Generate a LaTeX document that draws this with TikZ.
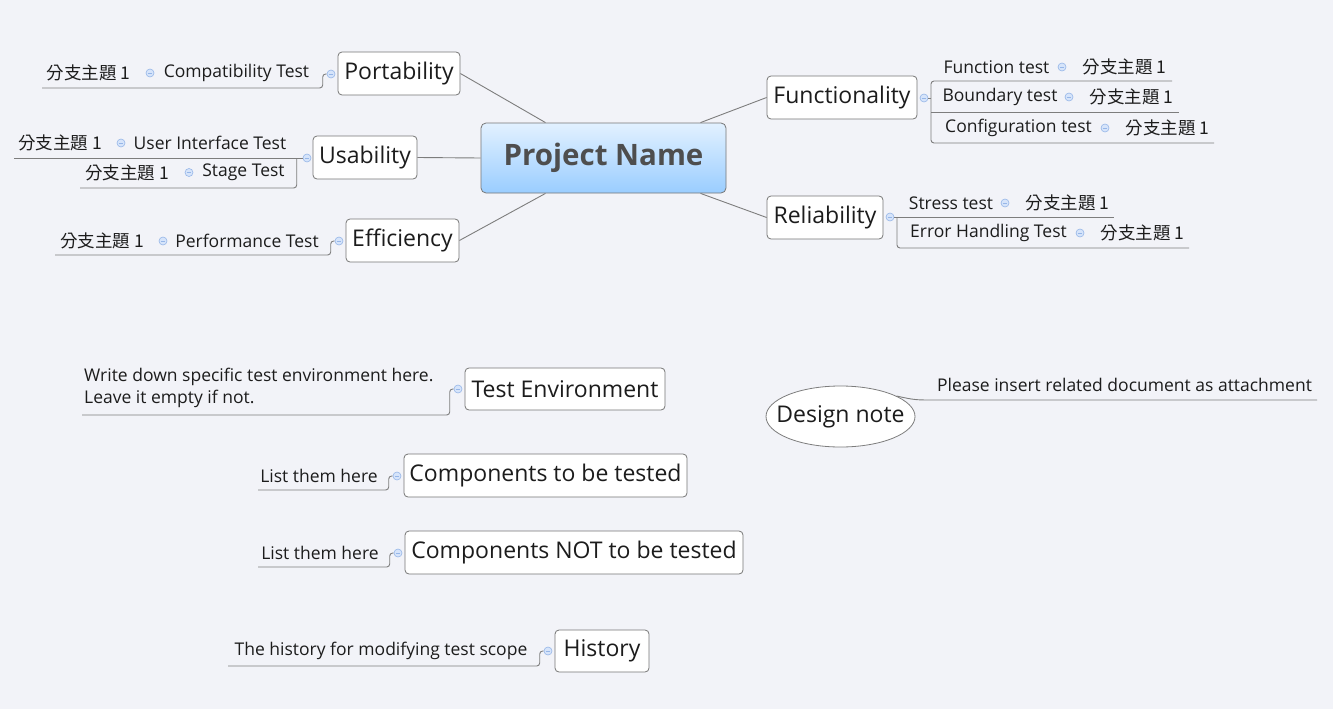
\documentclass[tikz,border=0pt]{standalone}
\usepackage{fontspec}
\setmainfont{Open Sans}
\newfontfamily\cjk{Noto Sans CJK TC}
\usetikzlibrary{shapes.geometric,calc}
\definecolor{bg}{RGB}{242,243,248}
\definecolor{ln}{RGB}{125,125,125}
\definecolor{bx}{RGB}{118,118,118}
\definecolor{cf}{RGB}{214,228,250}
\definecolor{cb}{RGB}{150,182,232}
\definecolor{ctop}{RGB}{226,241,255}
\definecolor{cbot}{RGB}{154,205,255}
\definecolor{tx}{RGB}{28,28,28}
\definecolor{ctx}{RGB}{78,78,78}
\tikzset{
  conn/.style={draw=ln, line width=0.9pt},
  branch/.style={draw=bx, fill=white, rounded corners=4pt, minimum height=43, inner xsep=5, line width=0.8pt, font=\fontsize{23}{27}\selectfont, text=tx},
  subt/.style={inner sep=0, font=\fontsize{17.5}{21}\selectfont, text=tx},
  cjkt/.style={inner sep=0, font=\cjk\fontsize{17.5}{21}\selectfont, text=tx},
  col/.style={circle, draw=cb, fill=cf, inner sep=0, minimum size=8, line width=0.6pt,
    path picture={\draw[cb,line width=0.8pt] ([xshift=-2.2]path picture bounding box.center) -- ([xshift=2.2]path picture bounding box.center);}}
}
\begin{document}
\begin{tikzpicture}[x=1pt,y=-1pt]
\fill[bg] (0,0) rectangle (1333,709);
\useasboundingbox (0,0) rectangle (1333,709);

% central
\node[draw=bx, line width=0.8pt, rounded corners=5pt, top color=ctop, bottom color=cbot, minimum width=245, minimum height=70, font=\bfseries\fontsize{29.5}{34}\selectfont, text=ctx] (pn) at (603.5,158) {Project Name};

% Portability
\node[branch, minimum width=122] (port) at (399,73.5) {Portability};
\node[col] (cport) at (331,74) {};
\node[subt] (compat) at (236.5,73) {Compatibility Test};
\node[col] (ccompat) at (150,73) {};
\node[cjkt] (k1) at (88.5,73) {分支主題 1};
\coordinate (u1) at (42,88);
\draw[conn, rounded corners=3] (u1) -| ([xshift=-4]cport.west) -- (cport.west);

% Usability
\node[branch, minimum width=104] (us) at (365,157.5) {Usability};
\node[col] (cus) at (307,158) {};
\node[subt] (uit) at (210,143) {User Interface Test};
\node[col] (cuit) at (121,143) {};
\node[cjkt] (k2) at (60,143) {分支主題 1};
\node[subt] (stage) at (243.5,172.5) {Stage Test};
\node[col] (cstage) at (189,172.5) {};
\node[cjkt] (k3) at (127,172.5) {分支主題 1};
\coordinate (u2) at (14,158);
\coordinate (u3) at (80,188);
\draw[conn] (u2) -- (cus.west);
\draw[conn, rounded corners=3] (u3) -| ([xshift=-6]cus.west);

% Efficiency
\node[branch, minimum width=113] (eff) at (402.5,240.5) {Efficiency};
\node[col] (ceff) at (339,241) {};
\node[subt] (perf) at (247,241) {Performance Test};
\node[col] (cperf) at (163,241) {};
\node[cjkt] (k4) at (102,241) {分支主題 1};
\coordinate (u4) at (55,255);
\draw[conn, rounded corners=3] (u4) -| ([xshift=-4]ceff.west) -- (ceff.west);

% Functionality
\node[branch, minimum width=150] (fun) at (842,97.5) {Functionality};
\node[col] (cfun) at (924,98) {};
\node[subt] (ft) at (996.5,67) {Function test};
\node[col] (cft) at (1062,67) {};
\node[cjkt] (k5) at (1124.5,67) {分支主題 1};
\node[subt] (bt) at (1000,97) {Boundary test};
\node[col] (cbt) at (1069,97) {};
\node[cjkt] (k6) at (1131.5,97) {分支主題 1};
\node[subt] (ct) at (1018.5,128) {Configuration test};
\node[col] (cct) at (1105,128) {};
\node[cjkt] (k7) at (1167.5,128) {分支主題 1};
\coordinate (f0) at (931,98);
\coordinate (f1a) at (931,81);
\coordinate (f1b) at (1172,81);
\coordinate (f2a) at (931,112);
\coordinate (f2b) at (1179,112);
\coordinate (f3a) at (931,143);
\coordinate (f3b) at (1214,143);
\draw[conn] (cfun.east) -- (f0);
\draw[conn, rounded corners=3] (f1b) -- (f1a) -- (f3a) -- (f3b);
\draw[conn] (f2a) -- (f2b);

% Reliability
\node[branch, minimum width=116] (rel) at (825,217.5) {Reliability};
\node[col] (crel) at (890,217) {};
\node[subt] (st) at (951,203) {Stress test};
\node[col] (cst) at (1005,203) {};
\node[cjkt] (k8) at (1067.5,203) {分支主題 1};
\node[subt] (eh) at (988.5,233) {Error Handling Test};
\node[col] (ceh) at (1080,233) {};
\node[cjkt] (k9) at (1142.5,233) {分支主題 1};
\coordinate (r1a) at (897,217);
\coordinate (r1b) at (1114,217);
\coordinate (r2a) at (897,248);
\coordinate (r2b) at (1189,248);
\draw[conn] (crel.east) -- (r1b);
\draw[conn, rounded corners=3] (r1a) -- (r2a) -- (r2b);

% central edges
\draw[conn] (port.east) -- ([xshift=-58]pn.north);
\draw[conn] (us.east) -- (pn.west);
\draw[conn] (eff.east) -- ([xshift=-58]pn.south);
\draw[conn] (fun.west) -- ([xshift=97]pn.north);
\draw[conn] (rel.west) -- ([xshift=97]pn.south);

% Test Environment
\node[branch, minimum width=200, minimum height=42] (te) at (565,389) {Test Environment};
\node[col] (cte) at (458,389) {};
\node[subt, anchor=west, align=left, font=\fontsize{17.5}{22}\selectfont] (tet) at (84,388) {Write down specific test environment here.\\Leave it empty if not.};
\coordinate (u5) at (82,415);
\draw[conn, rounded corners=3] (u5) -| ([xshift=-4]cte.west) -- (cte.west);

% Components to be tested
\node[branch, minimum width=283] (comp) at (545.5,475.5) {Components to be tested};
\node[col] (ccomp) at (397,476) {};
\node[subt] (lt1) at (319,476) {List them here};
\coordinate (u6) at (258,490);
\draw[conn, rounded corners=3] (u6) -| ([xshift=-4]ccomp.west) -- (ccomp.west);

% Components NOT to be tested
\node[branch, minimum width=338] (compn) at (574,552.5) {Components NOT to be tested};
\node[col] (ccompn) at (398,553) {};
\node[subt] (lt2) at (320,553) {List them here};
\coordinate (u7) at (258,567);
\draw[conn, rounded corners=3] (u7) -| ([xshift=-4]ccompn.west) -- (ccompn.west);

% History
\node[branch, minimum width=94, minimum height=42] (hist) at (602,651) {History};
\node[col] (chist) at (548,651) {};
\node[subt] (ht) at (381,651) {The history for modifying test scope};
\coordinate (u8) at (228,666);
\draw[conn, rounded corners=3] (u8) -| ([xshift=-4]chist.west) -- (chist.west);

% Design note
\node[ellipse, draw=ln, line width=0.8pt, fill=white, minimum width=149, minimum height=61, inner sep=0] (dn) at (840.5,416.5) {};
\node[inner sep=0, font=\fontsize{23}{27}\selectfont, text=tx] (dnt) at (dn.center) {Design note};
\node[subt] (pi) at (1124.5,385) {Please insert related document as attachment};
\coordinate (d1) at (935,400);
\coordinate (d2) at (1317,400);
\draw[conn] (dn.20) .. controls (915,400) .. (d1) -- (d2);
\end{tikzpicture}
\end{document}
